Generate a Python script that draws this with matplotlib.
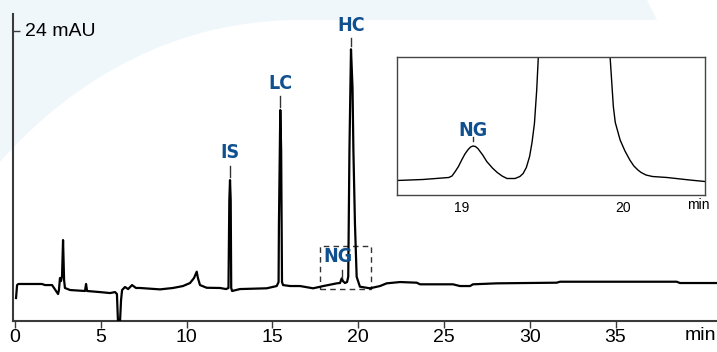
import numpy as np
import matplotlib.pyplot as plt
from matplotlib.path import Path
from matplotlib.patches import PathPatch, Polygon

# main trace (time in min, absorbance in mAU)
t_main = [0.06, 0.12, 0.20, 1.57, 1.75, 2.16, 2.51, 2.56, 2.62, 2.68, 2.74, 2.80, 2.86, 2.91,
          3.21, 4.08, 4.14, 4.20, 4.95, 5.54, 5.83, 5.94, 6.00, 6.12, 6.18, 6.24, 6.41, 6.59,
          6.82, 7.05, 7.28, 8.45, 9.21, 9.79, 10.20, 10.43, 10.59, 10.66, 10.78, 11.17, 11.95,
          12.30, 12.44, 12.49, 12.53, 12.57, 12.60, 12.65, 13.11, 14.67, 15.25, 15.36, 15.38,
          15.46, 15.51, 15.56, 15.62, 16.03, 16.61, 17.37, 17.97, 18.75, 18.94, 19.04, 19.11,
          19.23, 19.35, 19.42, 19.49, 19.58, 19.67, 19.72, 19.81, 19.91, 20.10, 20.69, 21.27,
          21.66, 22.44, 23.41, 23.60, 25.52, 25.93, 26.52, 26.69, 28.07, 31.57, 31.76, 38.56,
          38.75, 40.91]
a_main = [-0.74, 0.46, 0.56, 0.56, 0.46, 0.46, -0.37, 0.00, 1.11, 0.83, 1.30, 4.63, 0.93, 0.19,
          0.00, -0.09, 0.56, -0.09, -0.19, -0.28, -0.19, -0.37, -2.90, -2.90, -0.93, 0.00, 0.28, 0.09,
          0.46, 0.19, 0.19, 0.06, 0.19, 0.37, 0.65, 1.11, 1.70, 1.11, 0.46, 0.21, 0.19,
          0.09, 0.19, 8.34, 10.19, 8.34, 0.19, -0.09, 0.09, 0.16, 0.37, 0.74, 6.02,
          16.68, 12.97, 0.74, 0.46, 0.37, 0.37, 0.16, 0.37, 0.62, 0.65, 1.08, 0.83,
          0.65, 0.74, 1.23, 12.97, 22.31, 18.72, 12.97, 6.21, 1.23, 0.31, 0.16, 0.37,
          0.62, 0.74, 0.68, 0.53, 0.53, 0.37, 0.37, 0.53, 0.62, 0.68, 0.77, 0.77,
          0.65, 0.65]

# zoomed trace for the inset
t_zoom = [18.598, 18.76, 18.92, 18.94, 18.96, 18.98, 19.0, 19.02, 19.04, 19.055, 19.07, 19.085,
          19.10, 19.13, 19.155, 19.19, 19.22, 19.25, 19.28, 19.33, 19.36, 19.38, 19.40, 19.42,
          19.435, 19.45, 19.464, 19.474, 19.48, 19.91, 19.918, 19.938, 19.95, 19.98, 20.01,
          20.04, 20.065, 20.09, 20.11, 20.14, 20.18, 20.27, 20.41, 20.505]
a_zoom = [0.29, 0.31, 0.35, 0.38, 0.47, 0.57, 0.70, 0.82, 0.91, 0.96, 0.98, 0.97,
          0.93, 0.80, 0.67, 0.54, 0.45, 0.38, 0.33, 0.33, 0.37, 0.43, 0.55, 0.77,
          1.05, 1.43, 2.10, 2.76, 3.50, 3.50, 2.76, 1.77, 1.45, 1.10, 0.88,
          0.70, 0.58, 0.50, 0.45, 0.40, 0.37, 0.35, 0.30, 0.27]

peak_names = ["IS", "LC", "HC", "NG"]
peak_t = [12.53, 15.46, 19.58, 19.04]
peak_top = [10.19, 16.68, 22.31, 1.08]

xticks = [0, 5, 10, 15, 20, 25, 30, 35]

blue = '#10508f'
plt.rcParams['font.family'] = ['Liberation Sans', 'DejaVu Sans']
lab_kw = dict(fontsize=14, fontweight='bold', color=blue, family='DejaVu Sans',
              fontstretch='condensed', ha='center', va='center')

fig = plt.figure(figsize=(7.17, 3.52), dpi=100)

# light blue decoration behind the chart
W, H = 717, 352
def fc(x, y):
    return (x / W, 1 - y / H)
verts = [fc(0, 0), fc(647, 0), fc(657, 20), fc(300, 20), fc(150, 20), fc(50, 105), fc(0, 162), fc(0, 0)]
codes = [Path.MOVETO, Path.LINETO, Path.LINETO, Path.LINETO, Path.CURVE4, Path.CURVE4, Path.CURVE4,
         Path.CLOSEPOLY]
fig.patches.append(PathPatch(Path(verts, codes), transform=fig.transFigure,
                             facecolor='#f0f7fb', edgecolor='none', zorder=-5))

ax = fig.add_axes([13 / W, 31 / H, 704 / W, 307 / H])
ax.patch.set_alpha(0)
ax.plot(t_main, a_main, color='black', lw=1.6, solid_joinstyle='round', zorder=3)
ax.set_xlim(-0.117, 40.91)
ax.set_ylim(-2.87, 25.58)

for s in ['top', 'right']:
    ax.spines[s].set_visible(False)
for s in ['left', 'bottom']:
    ax.spines[s].set_color('#3a3a3a')
    ax.spines[s].set_linewidth(1.5)

ax.set_xticks(xticks)
ax.set_xticklabels([str(v) for v in xticks], fontsize=14)
ax.tick_params(axis='x', direction='out', length=5, width=1, color='#3a3a3a', pad=1)
ax.set_yticks([24])
ax.set_yticklabels([''])
ax.tick_params(axis='y', direction='in', length=5, width=1, color='#3a3a3a')
ax.text(0.58, 24, "24 mAU", fontsize=14, va='center', ha='left')
ax.text(39.92, -0.046, "min", fontsize=14, va='center', ha='center',
        transform=ax.get_xaxis_transform(), clip_on=False)

# peak labels with short markers
lab_y = [12.70, 19.18, 24.55, 3.15]
lab_x = [12.53, 15.46, 19.58, 18.82]
for name, tp, top, lx, ly in zip(peak_names, peak_t, peak_top, lab_x, lab_y):
    ax.text(lx, ly, name, zorder=5, **lab_kw)
    if name == "NG":
        ax.plot([tp, tp], [1.85, 1.15], color='#333333', lw=1, zorder=4)
    else:
        ax.plot([tp, tp], [ly - 1.2, top + 0.3], color='#333333', lw=1, zorder=4)

# dashed zoom window
ax.add_patch(Polygon([[17.77, 0.09], [20.75, 0.09], [20.75, 4.08], [17.77, 4.08]], closed=True,
                     fill=False, ls=(0, (4, 3)), lw=1, edgecolor='#333333', zorder=2))

# inset
ins = fig.add_axes([396.7 / W, (H - 195) / H, 308.3 / W, 138 / H])
ins.plot(t_zoom, a_zoom, color='black', lw=1.0)
ins.set_xlim(18.598, 20.505)
ins.set_ylim(0, 2.76)
ins.set_xticks([19, 20])
ins.set_xticklabels(['19', '20'], fontsize=10)
ins.tick_params(axis='x', length=0, pad=4)
ins.set_yticks([])
for s in ins.spines.values():
    s.set_color('#444444')
    s.set_linewidth(1)
ins.text(20.462, -0.075, "min", fontsize=10, ha='center', va='center',
         transform=ins.get_xaxis_transform(), clip_on=False)
ins.text(19.07, 1.28, "NG", **lab_kw)
ins.plot([19.07, 19.07], [1.16, 1.08], color='#333333', lw=1)

fig.savefig("out.png", dpi=100)
